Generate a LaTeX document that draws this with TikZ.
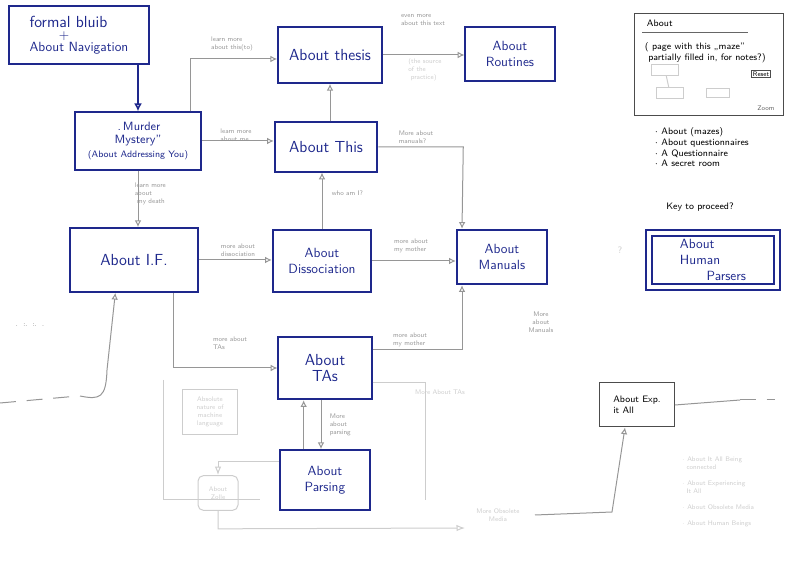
\documentclass[tikz,border=0pt]{standalone}
\usetikzlibrary{positioning,arrows.meta}
\definecolor{ink}{RGB}{30,40,140}
\definecolor{pencil}{RGB}{150,150,150}
\definecolor{faintpencil}{RGB}{205,205,205}
\tikzset{every picture/.style={line width=0.75pt}}
\tikzset{
  box/.style={draw=ink,line width=1.4pt,text=ink,align=center,inner sep=2pt,font=\sffamily},
  faintbox/.style={draw=faintpencil,text=faintpencil,align=center,font=\sffamily\tiny,inner sep=1pt},
  link/.style={draw=pencil,-{Latex[open,length=5pt,width=5pt]}},
  lbl/.style={text=pencil,font=\sffamily\tiny,align=left,inner sep=1pt},
  faintlbl/.style={text=faintpencil,font=\sffamily\tiny,align=left,inner sep=1pt}
}
\begin{document}
\begin{tikzpicture}[x=0.75pt,y=0.75pt,yscale=-1,xscale=1]
\useasboundingbox (0,0) rectangle (800,566);

% main boxes
\node [box,minimum width=105,minimum height=43.5,anchor=north west,align=left] (blurb) at (8,5) {\large formal bluib\\[-3pt]\hspace*{2.2em}+\\[-3pt]About Navigation};
\node [box,minimum width=95,minimum height=43] (murder) at (138,141) {\small\,.\,Murder\\[-2pt]\small Mystery''\\[-2pt]\scriptsize(About Addressing You)};
\node [box,minimum width=78,minimum height=42] (thesis) at (330,55) {\large About thesis};
\node [box,minimum width=67,minimum height=40] (routines) at (510,54) {About\\Routines};
\node [box,minimum width=77,minimum height=37] (this) at (326,147) {\large About This};
\node [box,minimum width=96,minimum height=48] (aif) at (134,260) {\large About I.F.};
\node [box,minimum width=74,minimum height=47] (dissoc) at (322,261) {About\\Dissociation};
\node [box,minimum width=68,minimum height=41] (manuals) at (502,257) {About\\Manuals};
\node [box,minimum width=70,minimum height=47] (tas) at (325,368) {\large About\\\large TAs};
\node [box,minimum width=68,minimum height=45] (parsing) at (325,480) {About\\Parsing};
\node [box,double,double distance=3pt,minimum width=96,minimum height=40,align=left] (human) at (713,260) {About\\Human\\\hspace*{2em}Parsers};
\node [draw=black!70,text=black,font=\sffamily\scriptsize,minimum width=56,minimum height=33,align=left] (expall) at (637,405) {About Exp.\\it All};

% screen sketch
\draw [black!70] (634,14) rectangle (783,116);
\node [font=\sffamily\scriptsize,anchor=west] (scrtitle) at (642,23) {About};
\draw [black!60] (642,33) -- (748,33);
\node [font=\sffamily\scriptsize,anchor=north west,align=left] (scrtext) at (640,38) {( page with this ,,maze''\\\ partially filled in, for notes?)};
\node [draw=black!70,font=\sffamily\tiny,inner sep=1pt] (scrreset) at (761,74) {Reset};
\node [draw=faintpencil,minimum width=20,minimum height=8] (m1) at (665,70) {};
\node [draw=faintpencil,minimum width=20,minimum height=8] (m2) at (670,93) {};
\node [draw=faintpencil,minimum width=17,minimum height=6] (m3) at (718,93) {};
\draw [faintpencil] (m1) -- (m2);
\node [font=\sffamily\tiny,text=black!60] (scrsmall) at (766,108) {Zoom};
\node [font=\sffamily\scriptsize,anchor=north west,align=left] (scrlist) at (650,123) {$\cdot$\ About (mazes)\\$\cdot$\ About questionnaires\\$\cdot$\ A Questionnaire\\$\cdot$\ A secret room};
\node [font=\sffamily\scriptsize] (key) at (700,207) {Key to proceed?};
\node [text=faintpencil,font=\sffamily\scriptsize] (qmark) at (620,250) {?};

% connectors
\draw [draw=ink,line width=1.4pt,-{Latex[open,length=6pt,width=6pt]}] (blurb.south -| murder.north) -- (murder.north);
\draw [link] (murder.north east) ++(-12,0) |- ([yshift=3pt]thesis.west);
\node [lbl] (l1) at (232,44) {learn more\\about this(to)};
\draw [link] (murder.east) -- (this.west |- murder.east);
\node [lbl] (l2) at (236,135) {learn more\\about me};
\draw [link] (murder.south) -- (aif.north -| murder.south);
\node [lbl,anchor=west] (l3) at (133,194) {learn more\\about\\\ my death};
\draw [link] (this.north -| thesis.south) -- (thesis.south);
\draw [link] (dissoc.north) -- (this.south -| dissoc.north);
\node [lbl,anchor=west] (l4) at (330,193) {who am I?};
\draw [link] (aif.east) -- (dissoc.west |- aif.east);
\node [lbl] (l5) at (238,250) {more about\\dissociation};
\draw [link] (dissoc.east) -- (manuals.west |- dissoc.east);
\node [lbl] (l6) at (411,246) {more about\\my mother};
\draw [link] (this.east) -- ++(85,0) -- ([xshift=-30pt]manuals.north);
\node [lbl] (l7) at (416,137) {More about\\manuals?};
\draw [link] ([xshift=-19pt]aif.south east) |- (tas.west);
\node [lbl] (l8) at (230,343) {more about\\TAs};
\draw [link] (tas.east) ++(0,-18) -| ([xshift=-30pt]manuals.south);
\node [lbl] (l9) at (410,340) {more about\\my mother};
\draw [link] (thesis.east) -- (routines.west |- thesis.east);
\node [lbl] (l10) at (423,20) {even more\\about this text};
\node [faintlbl] (l11) at (425,70) {(the source\\of the\\\ practice)};
\draw [link] ([xshift=-16pt]parsing.north) -- ([xshift=-16pt]tas.south);
\draw [link] ([xshift=-3pt]tas.south) -- ([xshift=-3pt]parsing.north);
\node [lbl,anchor=west] (l12) at (328,425) {More\\about\\parsing};
\node [lbl,align=center] (l13) at (541,322) {More\\about\\Manuals};

% faint sketches
\node [faintbox,minimum width=41,minimum height=34] (absolute) at (210,412) {Absolute\\nature of\\machine\\language};
\node [faintbox,rounded corners,minimum width=30,minimum height=26] (zolle) at (218,493) {About\\Zolle};
\draw [faintpencil,-{Latex[open]}] (parsing.west) ++(0,-18) -| (zolle.north);
\draw [faintpencil,-{Latex[open]}] (zolle.south) -- ++(0,18) -- (465,528);
\draw [faintpencil] (tas.east) ++(0,15) -- (425,383) -- (425,500);
\draw [faintpencil] (163,380) -- (163,500) -- (260,500);
\node [faintlbl] (l14) at (440,392) {More About TAs};
\node [faintlbl,align=center] (obsolete) at (498,515) {More Obsolete\\Media};
\draw [draw=pencil,-{Latex[open,length=5pt,width=5pt]}] (535,515) -- (612,512) -- ([xshift=-9pt]expall.south);
\draw [pencil] (expall.east) -- (740,400);
\draw [pencil,dashed,dash pattern=on 12pt off 8pt] (740,400) -- (775,400);
\draw [draw=pencil,-{Latex[open,length=5pt,width=5pt]}] (80,396) .. controls (100,400) and (106,398) .. (107,370) -- ([xshift=-14pt]aif.south);
\draw [pencil,dashed,dash pattern=on 12pt off 8pt] (0,403) -- (78,396);
\node [text=black!60,font=\sffamily\tiny] (dots) at (30,325) {. \ :. \ :. \ .};
\node [faintlbl,anchor=north west] (bottomlist) at (680,455) {$\cdot$ About It All Being\\\ \ connected\\[6pt]$\cdot$ About Experiencing\\\ \ It All\\[6pt]$\cdot$ About Obsolete Media\\[6pt]$\cdot$ About Human Beings};
\end{tikzpicture}
\end{document}
